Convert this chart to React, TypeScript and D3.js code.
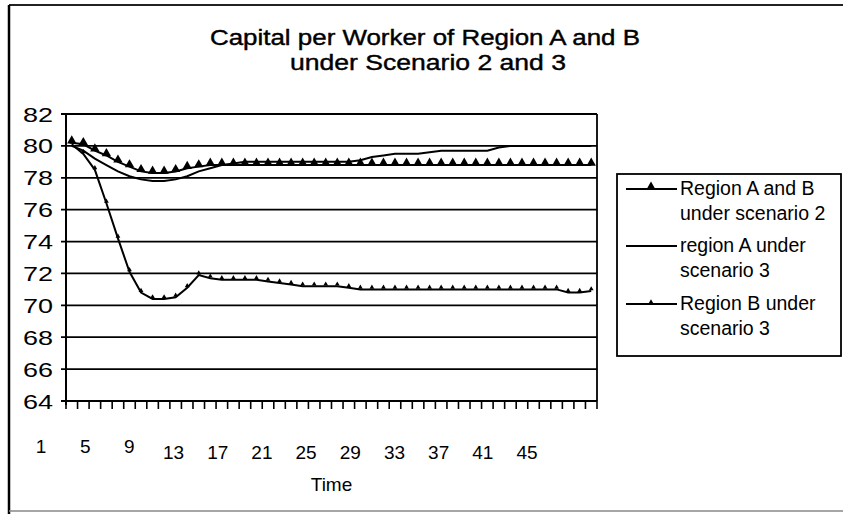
import React from "react";
import * as d3 from "d3";

const categories: number[] = Array.from({ length: 46 }, (_, i) => i + 1);
const tickLabels: number[] = [1, 5, 9, 13, 17, 21, 25, 29, 33, 37, 41, 45];
const yTicks: number[] = [64, 66, 68, 70, 72, 74, 76, 78, 80, 82];

const seriesNames: string[][] = [
  ["Region A and B", "under scenario 2"],
  ["region A under", "scenario 3"],
  ["Region B under", "scenario 3"],
];

const scen2AB: number[] = [
  80.2, 80.1, 79.7, 79.4, 79.0, 78.7, 78.4, 78.3, 78.3, 78.4, 78.6, 78.7, 78.8, 78.8, 78.8,
  78.8, 78.8, 78.8, 78.8, 78.8, 78.8, 78.8, 78.8, 78.8, 78.8, 78.8, 78.8, 78.8, 78.8, 78.8,
  78.8, 78.8, 78.8, 78.8, 78.8, 78.8, 78.8, 78.8, 78.8, 78.8, 78.8, 78.8, 78.8, 78.8, 78.8, 78.8,
];
const scen3A: number[] = [
  80.0, 79.7, 79.2, 78.8, 78.4, 78.1, 77.9, 77.8, 77.8, 77.9, 78.1, 78.4, 78.6, 78.8, 78.9,
  79.0, 79.0, 79.0, 79.0, 79.0, 79.0, 79.0, 79.0, 79.0, 79.0, 79.1, 79.3, 79.4, 79.5, 79.5,
  79.5, 79.6, 79.7, 79.7, 79.7, 79.7, 79.7, 79.9, 80.0, 80.0, 80.0, 80.0, 80.0, 80.0, 80.0, 80.0,
];
const scen3B: number[] = [
  80.1, 79.5, 78.5, 76.4, 74.2, 72.1, 70.8, 70.4, 70.4, 70.5, 71.1, 71.9, 71.7, 71.6, 71.6,
  71.6, 71.6, 71.5, 71.4, 71.3, 71.2, 71.2, 71.2, 71.2, 71.1, 71.0, 71.0, 71.0, 71.0, 71.0,
  71.0, 71.0, 71.0, 71.0, 71.0, 71.0, 71.0, 71.0, 71.0, 71.0, 71.0, 71.0, 71.0, 70.8, 70.8, 70.9,
];

const W = 843;
const H = 514;
const L = 66, R = 597, T = 114, B = 401;
const FONT = "'Liberation Sans', Arial, sans-serif";

export default function App() {
  const x = d3.scaleBand<number>().domain(categories).range([L, R]);
  const bw = x.bandwidth();
  const cx = (c: number) => (x(c) as number) + bw / 2;
  const y = d3.scaleLinear().domain([64, 82]).range([B, T]);
  const labelX = d3.scaleLinear().domain([1, 45]).range([41, 527]);

  const line = d3
    .line<number>()
    .x((_, i) => cx(categories[i]))
    .y((d) => y(d));

  const triBig = d3.symbol().type(d3.symbolTriangle).size(38)() as string;
  const triSmall = d3.symbol().type(d3.symbolTriangle).size(10)() as string;

  const boundaries = categories.map((c) => x(c) as number).concat([R]);

  const legendX = 617, legendY = 174, legendW = 224, legendH = 182;
  const entryY = [189, 246, 304];

  return (
    <svg
      width={W}
      height={H}
      style={{ position: "absolute", left: 0, top: 0, background: "#fff" }}
      fontFamily={FONT}
    >
      <rect x={0} y={0} width={W} height={H} fill="#fff" />
      {/* chart border */}
      <line x1={9} y1={5} x2={843} y2={5} stroke="#222" strokeWidth={2} />
      <line x1={9} y1={5} x2={9} y2={514} stroke="#000" strokeWidth={2.5} />
      <line x1={9} y1={511} x2={843} y2={511} stroke="#888" strokeWidth={1.5} />

      {/* title */}
      <text x={425} y={45} textAnchor="middle" fontSize={22} fill="#000" stroke="#000" strokeWidth={0.4}
        textLength={430} lengthAdjust="spacingAndGlyphs">
        Capital per Worker of Region A and B
      </text>
      <text x={428} y={70} textAnchor="middle" fontSize={22} fill="#000" stroke="#000" strokeWidth={0.4}
        textLength={276} lengthAdjust="spacingAndGlyphs">
        under Scenario 2 and 3
      </text>

      {/* gridlines */}
      {yTicks.map((v) => (
        <g key={v}>
          <line x1={L - 5} x2={R} y1={y(v)} y2={y(v)} stroke="#000" strokeWidth={1.8} />
          <text x={53} y={y(v)} dy="0.36em" textAnchor="end" fontSize={21}
            textLength={30} lengthAdjust="spacingAndGlyphs">
            {v}
          </text>
        </g>
      ))}
      {/* axes */}
      <line x1={L} x2={L} y1={T} y2={B + 4} stroke="#000" strokeWidth={2} />
      <line x1={R} x2={R} y1={T} y2={B} stroke="#000" strokeWidth={1.8} />
      {boundaries.map((bx, i) => (
        <line key={i} x1={bx} x2={bx} y1={B} y2={B + 8} stroke="#000" strokeWidth={1.6} />
      ))}
      {tickLabels.map((t) => (
        <text
          key={t}
          x={labelX(t)}
          y={t < 13 ? 453 : 459}
          textAnchor="middle"
          fontSize={19}
        >
          {t}
        </text>
      ))}
      <text x={(L + R) / 2} y={491} textAnchor="middle" fontSize={19}>
        Time
      </text>

      {/* series */}
      <path d={line(scen3A) as string} fill="none" stroke="#000" strokeWidth={2} />
      <path d={line(scen3B) as string} fill="none" stroke="#000" strokeWidth={2} />
      <path d={line(scen2AB) as string} fill="none" stroke="#000" strokeWidth={2} />
      {scen2AB.map((v, i) => (
        <path key={"a" + i} d={triBig} transform={`translate(${cx(categories[i])},${y(v) - 2})`} fill="#000" />
      ))}
      {scen3B.map((v, i) => (
        <path key={"b" + i} d={triSmall} transform={`translate(${cx(categories[i])},${y(v) - 2})`} fill="#000" />
      ))}

      {/* legend */}
      <rect x={legendX} y={legendY} width={legendW} height={legendH} fill="#fff" stroke="#000" strokeWidth={1.8} />
      {seriesNames.map((n, i) => (
        <g key={i}>
          <line x1={626} x2={677} y1={entryY[i]} y2={entryY[i]} stroke="#000" strokeWidth={2} />
          {i === 0 && <path d={triBig} transform={`translate(651,${entryY[i] - 2})`} fill="#000" />}
          {i === 2 && <path d={triSmall} transform={`translate(651,${entryY[i] - 2})`} fill="#000" />}
          <text x={680} y={entryY[i] + 6} fontSize={19.5}>
            {n[0]}
          </text>
          <text x={680} y={entryY[i] + 31} fontSize={19.5}>
            {n[1]}
          </text>
        </g>
      ))}
    </svg>
  );
}
